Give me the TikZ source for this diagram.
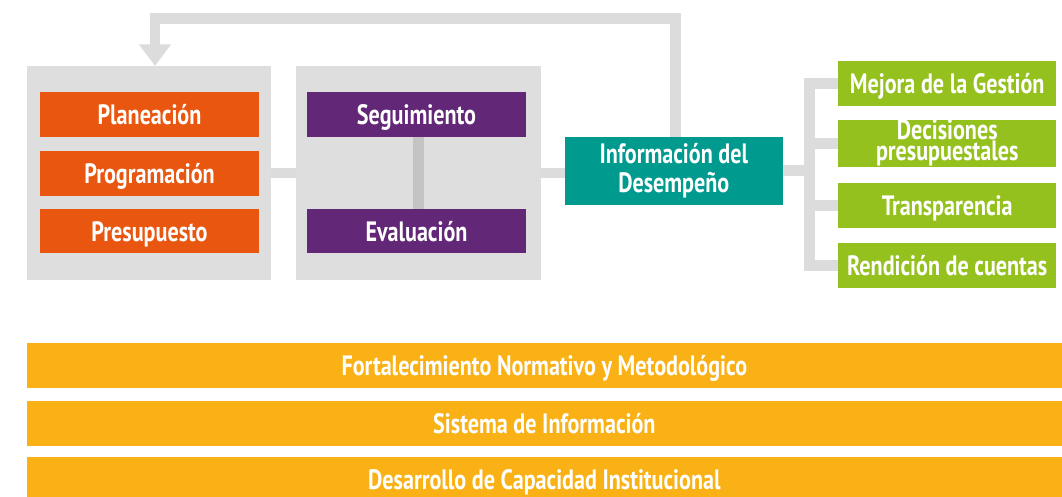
\documentclass[tikz,border=0pt]{standalone}
\usepackage{fontspec}
\newfontfamily\condfont{PT Sans}[FakeStretch=0.79]
\usetikzlibrary{arrows.meta}
\definecolor{panelgray}{HTML}{DEDEDE}
\definecolor{linkgray}{HTML}{DCDCDC}
\definecolor{linkdark}{HTML}{C4C4C4}
\definecolor{planorange}{HTML}{E9560F}
\definecolor{evalpurple}{HTML}{622777}
\definecolor{infoteal}{HTML}{009B8E}
\definecolor{usegreen}{HTML}{95C11F}
\definecolor{baseyellow}{HTML}{F9B115}
\newcommand\lblfont{\condfont\bfseries\fontsize{28}{29}\selectfont}
\begin{document}
\begin{tikzpicture}[x=1pt,y=-1pt,
    lbl/.style={inner sep=0pt, outer sep=0pt, text=white, font=\lblfont},
    oneline/.style={lbl, text height=20pt, text depth=0pt},
    panel/.style={fill=panelgray, inner sep=0pt, outer sep=0pt, minimum width=244.5pt, minimum height=214pt},
    planbox/.style={oneline, fill=planorange, minimum width=219pt, minimum height=44.7pt},
    evalbox/.style={oneline, fill=evalpurple, minimum width=218.4pt, minimum height=44.7pt},
    outbox/.style={lbl, fill=usegreen, minimum width=217.7pt, minimum height=44.7pt},
    basebar/.style={oneline, fill=baseyellow, minimum width=1035.3pt, minimum height=44.7pt},
    link/.style={draw=linkgray, line width=10.7pt}]
    \useasboundingbox (0,0) rectangle (1062,496);

    % Planeacion, programacion y presupuesto
    \node[panel] (plan) at (148.8,173) {};
    \node[planbox] (planeacion) at (149.5,114.3) {Planeación};
    \node[planbox] (programacion) at (149.5,173.3) {Programación};
    \node[planbox] (presupuesto) at (149.5,231.1) {Presupuesto};

    % Seguimiento y evaluacion
    \node[panel] (monitor) at (418.3,173) {};
    \node[evalbox] (seguimiento) at (416.5,114.3) {Seguimiento};
    \node[evalbox] (evaluacion) at (416.5,231.1) {Evaluación};

    % Informacion del desempeno
    \node[lbl, align=center, fill=infoteal, minimum width=217.7pt, minimum height=67.7pt] (info) at (673.8,170.8) {Información del\\Desempeño};

    % Usos de la informacion
    \node[outbox, oneline] (mejora) at (947.2,83.3) {Mejora de la Gestión};
    \node[outbox, align=center, font=\lblfont\fontsize{28}{21}\selectfont] (decisiones) at (947.2,143.3) {Decisiones\\presupuestales};
    \node[outbox, oneline] (transparencia) at (947.2,205.3) {Transparencia};
    \node[outbox, oneline] (rendicion) at (947.2,265.5) {Rendición de cuentas};

    % Bases
    \node[basebar] (normativo) at (544.35,365.3) {Fortalecimiento Normativo y Metodológico};
    \node[basebar] (sistema) at (544.35,423.3) {Sistema de Información};
    \node[basebar] (capacidad) at (544.35,479.7) {Desarrollo de Capacidad Institucional};

    % Conectores
    \draw[link] (plan.east) -- (monitor.west);
    \draw[link, draw=linkdark, line width=11.3pt] (seguimiento.south -| monitor.center) -- (evaluacion.north -| monitor.center);
    \draw[link] (monitor.east) -- (monitor.east -| info.west);

    % Retroalimentacion
    \coordinate (fbtop) at (675.3,18.7);
    \coordinate (fbleft) at (155,18.7);
    \draw[link, -{Triangle[width=30.7pt,length=21.7pt]}] (info.north -| fbtop) -- (fbtop) -- (fbleft) -- (fbleft |- plan.north);

    % Ramas hacia los usos
    \coordinate (bus) at (809.2,173);
    \draw[link] (info.east) -- (bus |- info.east);
    \draw[link] (mejora.west) -| (bus |- rendicion.west) -- (rendicion.west);
    \draw[link] (bus |- decisiones.west) -- (decisiones.west);
    \draw[link] (bus |- transparencia.west) -- (transparencia.west);
\end{tikzpicture}
\end{document}
